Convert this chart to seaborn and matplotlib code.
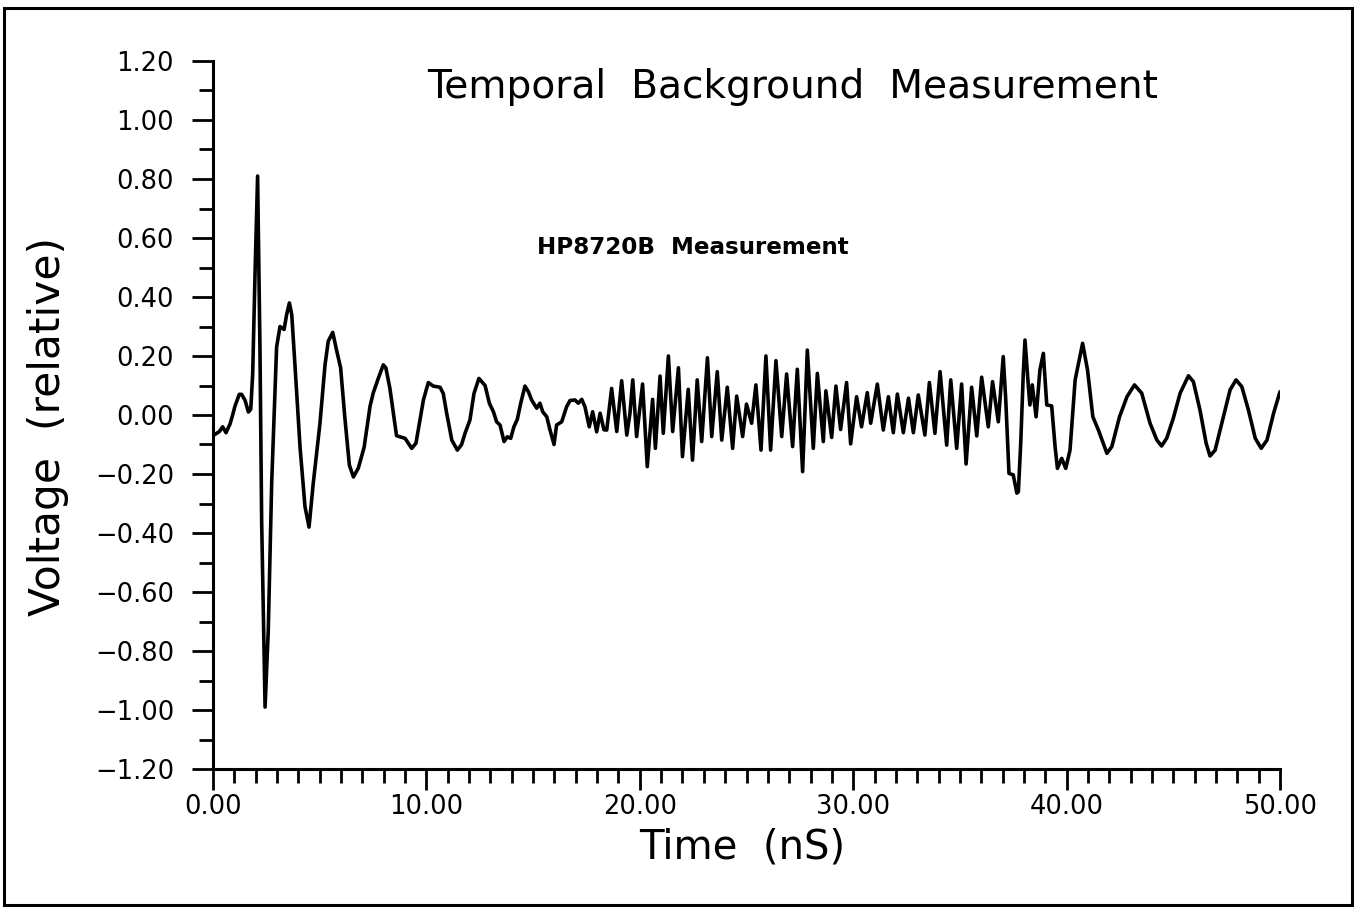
import matplotlib
matplotlib.use("Agg")
import matplotlib.pyplot as plt
from matplotlib.patches import Rectangle
from matplotlib.ticker import MultipleLocator, FuncFormatter
import numpy as np
import pandas as pd
import seaborn as sns

# waveform (time in nS, relative voltage)
TIME_NS = [
    0.00, 0.30, 0.45, 0.61, 0.80, 0.92, 1.03, 1.23, 1.34, 1.50, 1.66, 1.77, 1.86, 1.97,
    2.09, 2.20, 2.28, 2.44, 2.59, 2.75, 2.98, 3.14, 3.33, 3.45, 3.58, 3.69, 3.84, 4.08,
    4.31, 4.50, 4.70, 5.01, 5.25, 5.40, 5.61, 5.79, 5.98, 6.18, 6.39, 6.58, 6.81, 7.08,
    7.36, 7.51, 7.75, 7.98, 8.10, 8.29, 8.60, 8.76, 9.00, 9.31, 9.51, 9.67, 9.86, 10.09,
    10.32, 10.64, 10.79, 10.95, 11.19, 11.45, 11.65, 11.81, 12.04, 12.23, 12.46, 12.75,
    12.95, 13.14, 13.29, 13.45, 13.64, 13.79, 13.95, 14.10, 14.26, 14.42, 14.62, 14.78,
    14.93, 15.17, 15.32, 15.45, 15.64, 15.79, 15.98, 16.10, 16.34, 16.57, 16.73, 16.96,
    17.12, 17.28, 17.43, 17.63, 17.79, 17.98, 18.14, 18.32, 18.45, 18.68, 18.92, 19.15,
    19.39, 19.54, 19.67, 19.85, 20.13, 20.35, 20.60, 20.73, 20.95, 21.10, 21.34, 21.54,
    21.81, 22.00, 22.27, 22.47, 22.69, 22.90, 23.17, 23.37, 23.63, 23.84, 24.10, 24.35,
    24.54, 24.82, 25.00, 25.24, 25.44, 25.68, 25.91, 26.13, 26.38, 26.65, 26.88, 27.16,
    27.38, 27.63, 27.85, 28.13, 28.32, 28.60, 28.72, 28.99, 29.19, 29.41, 29.69, 29.88,
    30.16, 30.39, 30.66, 30.82, 31.13, 31.41, 31.65, 31.88, 32.07, 32.35, 32.59, 32.82,
    33.05, 33.36, 33.57, 33.83, 34.07, 34.38, 34.57, 34.85, 35.08, 35.29, 35.55, 35.79,
    36.02, 36.33, 36.53, 36.80, 37.03, 37.15, 37.30, 37.50, 37.67, 37.74, 37.85, 37.97,
    38.05, 38.21, 38.28, 38.39, 38.57, 38.75, 38.91, 39.07, 39.30, 39.46, 39.57, 39.77,
    39.96, 40.16, 40.40, 40.75, 40.98, 41.23, 41.49, 41.89, 42.12, 42.48, 42.83, 43.18,
    43.52, 43.91, 44.23, 44.45, 44.69, 45.00, 45.32, 45.71, 45.94, 46.25, 46.54, 46.72,
    46.96, 47.27, 47.66, 47.94, 48.21, 48.52, 48.84, 49.12, 49.39, 49.70, 50.00,
]
VOLTAGE = [
    -0.070, -0.056, -0.040, -0.060, -0.030, 0.000, 0.030, 0.070, 0.070, 0.050, 0.010, 0.020, 0.140, 0.480,
    0.810, 0.230, -0.360, -0.990, -0.730, -0.230, 0.230, 0.300, 0.290, 0.340, 0.380, 0.340, 0.170, -0.110,
    -0.310, -0.380, -0.230, -0.030, 0.170, 0.250, 0.280, 0.220, 0.160, -0.010, -0.170, -0.210, -0.180, -0.110,
    0.030, 0.075, 0.125, 0.170, 0.160, 0.090, -0.070, -0.074, -0.079, -0.113, -0.096, -0.028, 0.051, 0.110,
    0.098, 0.094, 0.073, 0.006, -0.085, -0.119, -0.100, -0.062, -0.017, 0.073, 0.124, 0.100,
    0.040, 0.011, -0.023, -0.034, -0.090, -0.074, -0.079, -0.040, -0.015, 0.040, 0.098, 0.079,
    0.051, 0.023, 0.040, 0.011, -0.006, -0.050, -0.100, -0.034, -0.023, 0.028, 0.049, 0.051,
    0.040, 0.053, 0.028, -0.040, 0.011, -0.057, 0.006, -0.050, -0.051, 0.090, -0.056, 0.116,
    -0.068, 0.006, 0.119, -0.073, 0.105, -0.175, 0.053, -0.113, 0.132, -0.062, 0.200, -0.056,
    0.160, -0.141, 0.087, -0.153, 0.119, -0.090, 0.194, -0.073, 0.147, -0.085, 0.094, -0.113,
    0.064, -0.073, 0.037, -0.028, 0.102, -0.119, 0.200, -0.119, 0.184, -0.073, 0.139, -0.107,
    0.155, -0.192, 0.220, -0.113, 0.141, -0.090, 0.082, -0.076, 0.098, -0.049, 0.110, -0.098,
    0.062, -0.040, 0.076, -0.028, 0.105, -0.051, 0.062, -0.060, 0.071, -0.060, 0.057, -0.060,
    0.068, -0.068, 0.110, -0.062, 0.147, -0.102, 0.119, -0.113, 0.105, -0.166, 0.094, -0.071,
    0.128, -0.040, 0.113, -0.023, 0.198, 0.050, -0.198, -0.203, -0.265, -0.260, -0.096, 0.141,
    0.254, 0.096, 0.034, 0.102, -0.006, 0.153, 0.209, 0.034, 0.031, -0.107, -0.181, -0.147,
    -0.181, -0.119, 0.119, 0.243, 0.153, -0.006, -0.051, -0.130, -0.107, -0.006, 0.062, 0.102,
    0.074, -0.028, -0.085, -0.105, -0.079, -0.011, 0.074, 0.133, 0.113, 0.017, -0.096, -0.139,
    -0.119, -0.028, 0.085, 0.119, 0.096, 0.017, -0.079, -0.113, -0.085, 0.006, 0.079,
]

X_MAJOR = 10.0
Y_MAJOR = 0.2

df = pd.DataFrame({"time": TIME_NS, "voltage": VOLTAGE})

sns.set_style("ticks")
plt.rcParams["font.family"] = ["DejaVu Sans"]
plt.rcParams["text.color"] = "black"
plt.rcParams["axes.labelcolor"] = "black"

fig = plt.figure(figsize=(13.54, 9.07), dpi=100)
ax = fig.add_axes([213 / 1354, 1 - 769 / 907, 1067 / 1354, 708 / 907])

sns.lineplot(data=df, x="time", y="voltage", color="black", linewidth=2.6,
             estimator=None, sort=False, ax=ax)

ax.set_xlim(0, 50)
ax.set_ylim(-1.2, 1.2)

fmt = FuncFormatter(lambda v, pos: f"{v:.2f}".replace("-", "\u2212"))
ax.xaxis.set_major_locator(MultipleLocator(X_MAJOR))
ax.xaxis.set_minor_locator(MultipleLocator(1.0))
ax.yaxis.set_major_locator(MultipleLocator(Y_MAJOR))
ax.yaxis.set_minor_locator(MultipleLocator(0.1))
ax.xaxis.set_major_formatter(fmt)
ax.yaxis.set_major_formatter(fmt)

ax.tick_params(axis="both", which="major", length=15, width=2, color="black",
               labelsize=18.5, labelcolor="black")
ax.tick_params(axis="both", which="minor", length=10, width=2, color="black")
ax.tick_params(axis="y", which="major", pad=13)
ax.tick_params(axis="x", which="major", pad=3)

sns.despine(ax=ax)
for side in ["left", "bottom"]:
    ax.spines[side].set_linewidth(2.2)
    ax.spines[side].set_color("black")

ax.set_xlabel("Time  (nS)", fontsize=29, va="center", color="black")
ax.xaxis.set_label_coords((742 - 213) / 1067, (769 - 848) / 708)
ax.set_ylabel("Voltage  (relative)", fontsize=30.5, va="center", color="black")
ax.yaxis.set_label_coords((48 - 213) / 1067, (769 - 426) / 708)

ax.text((793 - 213) / 1067, (769 - 87) / 708, "Temporal  Background  Measurement",
        transform=ax.transAxes, ha="center", va="center", fontsize=28.2, color="black")
ax.text((693 - 213) / 1067, (769 - 248) / 708, "HP8720B  Measurement",
        transform=ax.transAxes, ha="center", va="center", fontsize=16.6,
        fontweight="bold", color="black")

# frame round the whole page
fig.add_artist(Rectangle((4 / 1354, 2 / 907), 1348 / 1354, 897 / 907,
                         transform=fig.transFigure, fill=False,
                         edgecolor="black", linewidth=2.2))

fig.savefig("out.png", dpi=100, facecolor="white")
